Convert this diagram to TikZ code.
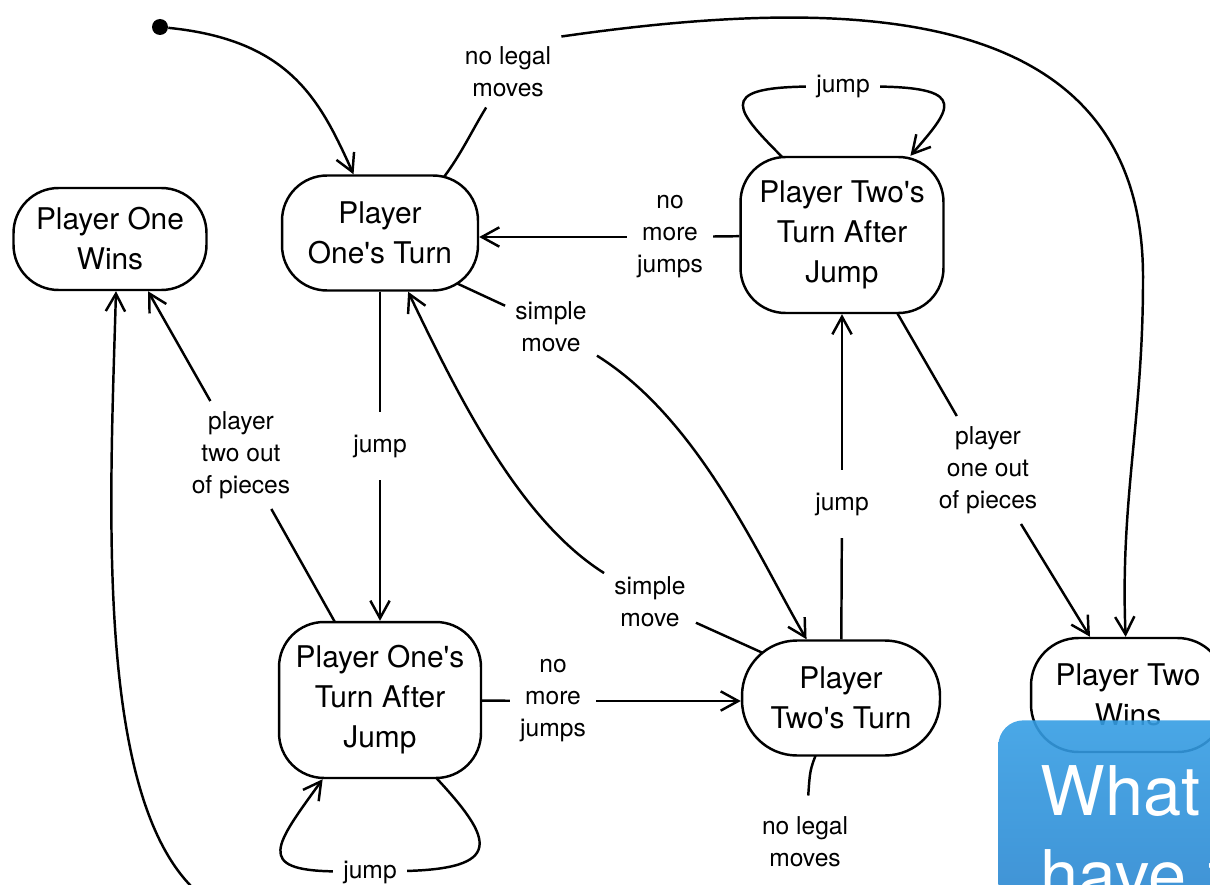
\documentclass[tikz,border=0pt]{standalone}
\usepackage{fontspec}
\setmainfont{TeX Gyre Heros}
\usetikzlibrary{calc,arrows.meta}
\pgfdeclarelayer{bg}
\pgfsetlayers{bg,main}
\definecolor{quiztop}{RGB}{54,158,228}
\definecolor{quizbottom}{RGB}{40,130,204}
\tikzset{
	state/.style={draw, line width=1.4pt, rounded corners=0.9cm, fill=white, align=center, font=\fontsize{17}{22.8}\selectfont, inner sep=0pt},
	lbl/.style={align=center, font=\fontsize{14}{18.2}\selectfont, inner sep=0.2cm},
	trans/.style={line width=1.4pt},
	arr/.style={trans, -{Straight Barb[length=10pt,width=11pt]}},
	initdot/.style={circle, fill, inner sep=0pt, minimum size=0.32cm},
	quiz/.style={rounded corners=0.5cm, top color=quiztop, bottom color=quizbottom, fill opacity=0.9, text opacity=1, text=white, align=left, text width=5cm, inner xsep=0.84cm, inner ysep=0.9cm, font=\fontsize{39}{48}\selectfont}
}

\begin{document}
\begin{tikzpicture}[x=0.02cm, y=-0.02cm]
	\useasboundingbox (0,0) rectangle (1210,885);

	\node[initdot] (init) at (160,27) {};
	\node[state, minimum width=3.86cm, minimum height=2.04cm] (p1wins) at (110,239) {Player One\\Wins};
	\node[state, minimum width=3.92cm, minimum height=2.3cm] (p1turn) at (380,233) {Player\\One\textquotesingle s Turn};
	\node[state, minimum width=4.06cm, minimum height=3.12cm] (p2taj) at (842,235) {Player Two\textquotesingle s\\Turn After\\Jump};
	\node[state, minimum width=4.04cm, minimum height=3.12cm] (p1taj) at (380,700) {Player One\textquotesingle s\\Turn After\\Jump};
	\node[state, rounded corners=1.1cm, minimum width=3.96cm, minimum height=2.3cm] (p2turn) at (841,698) {Player\\Two\textquotesingle s Turn};
	\node[state, rounded corners=0.95cm, minimum width=3.88cm, minimum height=2.28cm] (p2wins) at (1128,695) {Player Two\\Wins};

	\node[lbl] (l_nlm1) at (508,72) {no legal\\moves};
	\node[lbl] (l_nmj1) at (670,237) {no\\more\\jumps};
	\node[lbl] (l_jumpA) at (843,86) {jump};
	\node[lbl] (l_sm1) at (551,327) {simple\\move};
	\node[lbl] (l_sm2) at (650,602) {simple\\move};
	\node[lbl, inner ysep=0.45cm] (l_jumpB) at (380,446) {jump};
	\node[lbl, inner ysep=0.45cm] (l_jumpC) at (842,504) {jump};
	\node[lbl] (l_nmj2) at (553,701) {no\\more\\jumps};
	\node[lbl] (l_jumpD) at (370,872) {jump};
	\node[lbl] (l_p2out) at (241,455) {player\\two out\\of pieces};
	\node[lbl] (l_p1out) at (988,470) {player\\one out\\of pieces};
	\node[lbl, inner ysep=0.42cm] (l_nlm2) at (805,842) {no legal\\moves};

	\begin{pgfonlayer}{bg}
	\draw[arr] (init) .. controls (290,40) and (320,100) .. (p1turn);

	\draw[trans] (p1turn.center) .. controls (445,195) and (460,150) .. (l_nlm1);
	\draw[arr] (l_nlm1.north east) .. controls (850,-5) and (1145,0) .. (1143,280) .. controls (1143,420) and (1120,500) .. (p2wins);

	\draw[trans] (p2taj) -- (l_nmj1);
	\draw[arr] (l_nmj1) -- (l_nmj1 -| p1turn.east);

	\draw[trans] ($(p2taj.north)+(-55,6)$) .. controls (735,110) and (715,88) .. (l_jumpA);
	\draw[arr] (l_jumpA) .. controls (970,88) and (950,110) .. (p2taj);

	\draw[trans] ($(p1turn.south east)+(-28,-11)$) -- (l_sm1);
	\draw[arr] (l_sm1) .. controls (700,420) and (760,560) .. (p2turn);

	\draw[trans] ($(p2turn.north west)+(25,15)$) -- (l_sm2);
	\draw[arr] (l_sm2) .. controls (520,520) and (460,400) .. (p1turn);

	\draw[trans] (p1turn) -- (l_jumpB);
	\draw[arr] (l_jumpB) -- (p1taj);

	\draw[trans] (p2turn) -- (l_jumpC);
	\draw[arr] (l_jumpC) -- (p2taj);

	\draw[trans] (p1taj) -- (l_nmj2);
	\draw[arr] (l_nmj2) -- (l_nmj2 -| p2turn.west);

	\draw[trans] ($(p1taj.south)+(50,-8)$) .. controls (490,835) and (510,868) .. (l_jumpD);
	\draw[arr] (l_jumpD) .. controls (255,870) and (275,845) .. (p1taj);

	\draw[trans] ($(p1taj.north)+(-43,5)$) -- (l_p2out);
	\draw[arr] (l_p2out) -- ($(p1wins.south)+(38,0)$);

	\draw[trans] ($(p2taj.south)+(53,-5)$) -- (l_p1out);
	\draw[arr] (l_p1out) -- ($(p2wins.north)+(-38,0)$);

	\draw[trans] ($(p2turn.south)+(-24,-5)$) .. controls (810,770) .. (l_nlm2);
	\draw[arr] (l_nlm2) .. controls (800,990) and (285,985) .. (190,885) .. controls (95,785) and (110,500) .. ($(p1wins.south)+(6,0)$);
	\end{pgfonlayer}

	\node[quiz, anchor=north west] (quiz) at (998,720) {What\\have t};
\end{tikzpicture}
\end{document}
